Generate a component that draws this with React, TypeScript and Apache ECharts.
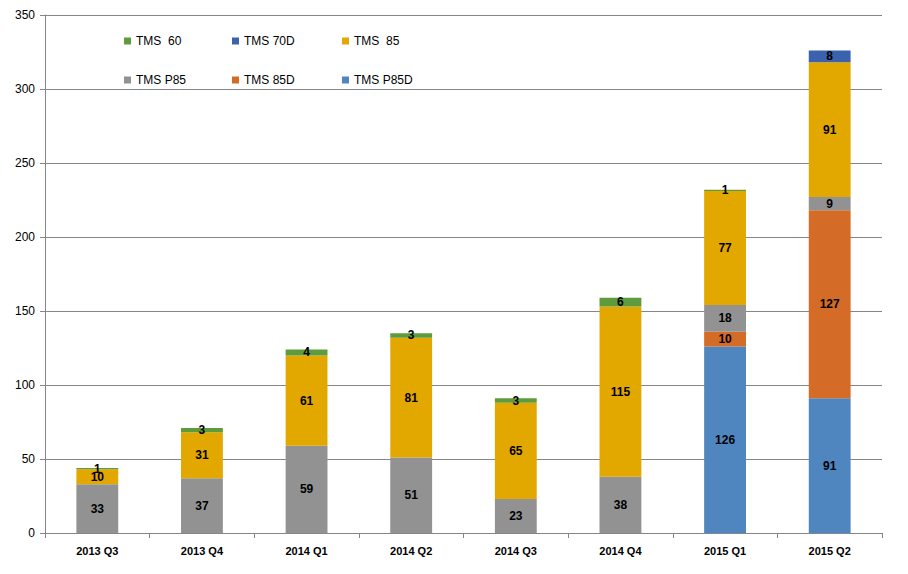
import React, { useEffect, useRef } from "react";
import * as echarts from "echarts";

const categories = ["2013 Q3", "2013 Q4", "2014 Q1", "2014 Q2", "2014 Q3", "2014 Q4", "2015 Q1", "2015 Q2"];
const tmsP85D = [null, null, null, null, null, null, 126, 91];
const tms85D = [null, null, null, null, null, null, 10, 127];
const tmsP85 = [33, 37, 59, 51, 23, 38, 18, 9];
const tms85 = [10, 31, 61, 81, 65, 115, 77, 91];
const tms70D = [null, null, null, null, null, null, null, 8];
const tms60 = [1, 3, 4, 3, 3, 6, 1, null];
const yTicks = [0, 50, 100, 150, 200, 250, 300, 350];

const FONT = "'Liberation Sans', Arial, sans-serif";

export default function App() {
  const ref = useRef<HTMLDivElement>(null);
  useEffect(() => {
    document.body.style.margin = "0";
    const chart = echarts.init(ref.current!, null, { renderer: "svg" });
    const mk = (name: string, data: (number | null)[], color: string) => ({
      name,
      type: "bar",
      stack: "total",
      barWidth: "40%",
      data,
      itemStyle: { color },
      label: {
        show: true,
        position: "inside",
        color: "#000",
        fontFamily: FONT,
        fontSize: 12,
        fontWeight: "bold",
        formatter: (p: any) => (p.value == null ? "" : String(p.value)),
      },
    });
    const legendCommon = {
      orient: "vertical",
      top: 30,
      itemWidth: 7,
      itemHeight: 7,
      itemGap: 27,
      icon: "rect",
      textStyle: { color: "#000", fontFamily: FONT, fontSize: 12 },
    };
    chart.setOption({
      animation: false,
      textStyle: { fontFamily: FONT },
      grid: { left: 45, right: 26, top: 15, bottom: 41 },
      legend: [
        { ...legendCommon, left: 119, data: ["TMS  60", "TMS P85"] },
        { ...legendCommon, left: 227, data: ["TMS 70D", "TMS 85D"] },
        { ...legendCommon, left: 337, data: ["TMS  85", "TMS P85D"] },
      ],
      xAxis: {
        type: "category",
        data: categories,
        axisLine: { lineStyle: { color: "#868686" } },
        axisTick: { show: true, alignWithLabel: false, length: 5, lineStyle: { color: "#868686" } },
        axisLabel: { color: "#000", fontFamily: FONT, fontSize: 11, fontWeight: "bold", margin: 12 },
      },
      yAxis: {
        type: "value",
        min: 0,
        max: 350,
        interval: 50,
        axisLine: { show: true, lineStyle: { color: "#868686" } },
        axisTick: { show: true, length: 5, lineStyle: { color: "#868686" } },
        splitLine: { lineStyle: { color: "#868686" } },
        axisLabel: {
          color: "#000",
          fontFamily: FONT,
          fontSize: 12,
          margin: 10,
          formatter: (v: number) => (yTicks.includes(v) ? String(v) : ""),
        },
      },
      series: [
        mk("TMS P85D", tmsP85D, "#4F86C0"),
        mk("TMS 85D", tms85D, "#D46B26"),
        mk("TMS P85", tmsP85, "#929292"),
        mk("TMS  85", tms85, "#E3A800"),
        mk("TMS 70D", tms70D, "#3B63AD"),
        mk("TMS  60", tms60, "#5E9B3C"),
      ],
    });
    return () => chart.dispose();
  }, []);
  return <div ref={ref} style={{ width: 908, height: 574 }} />;
}
